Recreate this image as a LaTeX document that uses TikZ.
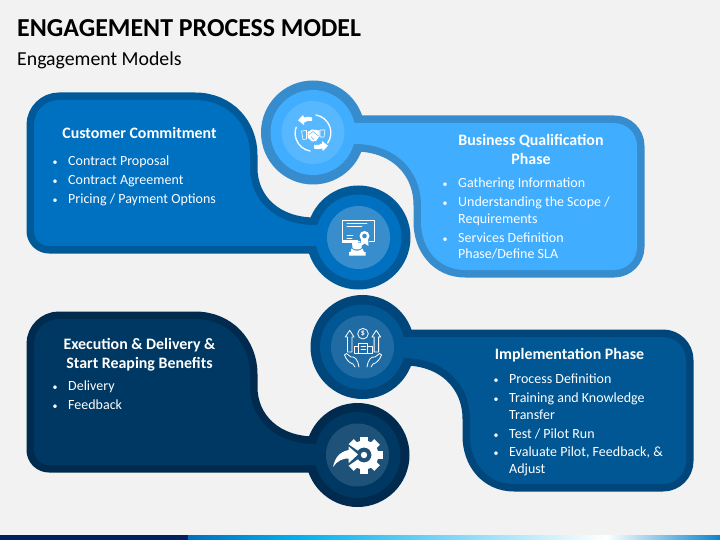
\documentclass[tikz,border=0pt]{standalone}
\usepackage{fontspec}
\setmainfont{Carlito}

\definecolor{pageback}{HTML}{F2F2F2}
\definecolor{lightfill}{HTML}{40ADFF}
\definecolor{lightedge}{HTML}{368CCD}
\definecolor{lightcore}{HTML}{57B8FF}
\definecolor{midfill}{HTML}{0070C0}
\definecolor{midedge}{HTML}{005A9A}
\definecolor{midcore}{HTML}{388ECC}
\definecolor{implfill}{HTML}{005793}
\definecolor{impledge}{HTML}{00467A}
\definecolor{implcore}{HTML}{206BA3}
\definecolor{execfill}{HTML}{003864}
\definecolor{execedge}{HTML}{002B4F}
\definecolor{execcore}{HTML}{1E5278}
\definecolor{barnavy}{HTML}{002060}
\definecolor{barsky}{HTML}{00B0F0}
\definecolor{barend}{HTML}{0A84D0}

\newcommand{\itemdot}{\llap{{\fontsize{10}{10}\selectfont\textbullet}\hspace{10.5pt}}}

\tikzset{
	lightpanel/.style = { fill = lightfill, preaction = { draw = lightedge, line width = 15pt, line join = round } },
	midpanel/.style = { fill = midfill, preaction = { draw = midedge, line width = 15pt, line join = round } },
	implpanel/.style = { fill = implfill, preaction = { draw = impledge, line width = 15pt, line join = round } },
	execpanel/.style = { fill = execfill, preaction = { draw = execedge, line width = 15pt, line join = round } },
	heading/.style = { text = white, anchor = base, inner sep = 0pt, font = \fontsize{15.9}{18}\selectfont\bfseries },
	itemline/.style = { text = white, anchor = base west, inner sep = 0pt, font = \fontsize{14}{16}\selectfont },
	iconline/.style = { draw = white, line width = 1pt, line cap = round, line join = round },
}

\begin{document}
\begin{tikzpicture}[x=1pt, y=-1pt]
	\useasboundingbox ( 0, 0 ) rectangle ( 720, 540 );
	\fill [pageback] ( 0, 0 ) rectangle ( 720, 540 );

	% заголовок
	\node (title) [anchor = base west, inner sep = 0pt, font = \fontsize{25.9}{30}\selectfont\bfseries] at ( 17, 37 ) {ENGAGEMENT PROCESS MODEL};
	\node (subtitle) [anchor = base west, inner sep = 0pt, font = \fontsize{19.8}{22}\selectfont] at ( 17, 66 ) {Engagement Models};

	% полоса внизу
	\fill [barnavy] ( 0, 535 ) rectangle ( 188, 540 );
	\shade [left color = midfill, right color = barsky] ( 188, 535 ) rectangle ( 298, 540 );
	\shade [left color = barsky, right color = white] ( 298, 535 ) rectangle ( 606, 540 );
	\shade [left color = white, right color = barend] ( 606, 535 ) rectangle ( 720, 540 );

	% панель Customer Commitment
	\fill [midedge] ( 358.5, 237.5 ) circle ( 52 );
	\fill [midpanel] ( 358, 246 ) -- ( 49, 246 ) arc [start angle = 90, end angle = 180, radius = 15] -- ( 34, 125 ) arc [start angle = 180, end angle = 270, radius = 25] -- ( 195, 100 ) .. controls ( 228, 100 ) and ( 250, 125 ) .. ( 250, 155 ) -- ( 250, 168 ) .. controls ( 250, 200 ) and ( 275, 225 ) .. ( 315, 225 ) -- ( 358, 225 ) -- cycle;
	\fill [midfill] ( 358.5, 237.5 ) circle ( 43 );
	\fill [midcore] ( 358.5, 237.5 ) circle ( 31.5 );

	% панель Business Qualification
	\fill [lightedge] ( 313, 132.5 ) circle ( 52 );
	\fill [lightpanel] ( 313, 123 ) -- ( 614, 123 ) arc [start angle = -90, end angle = 0, radius = 23] -- ( 637, 247 ) arc [start angle = 0, end angle = 90, radius = 23] -- ( 465, 270 ) .. controls ( 438, 270 ) and ( 421, 248 ) .. ( 421, 222 ) -- ( 421, 205 ) .. controls ( 421, 170 ) and ( 395, 144 ) .. ( 355, 144 ) -- ( 313, 144 ) -- cycle;
	\fill [lightfill] ( 313, 132.5 ) circle ( 42.5 );
	\fill [lightcore] ( 313, 132.5 ) circle ( 31.5 );

	% панель Implementation
	\fill [impledge] ( 362.5, 347 ) circle ( 52 );
	\fill [implpanel] ( 362, 337 ) -- ( 663, 337 ) arc [start angle = -90, end angle = 0, radius = 23] -- ( 686, 461 ) arc [start angle = 0, end angle = 90, radius = 23] -- ( 514, 484 ) .. controls ( 487, 484 ) and ( 470, 462 ) .. ( 470, 436 ) -- ( 470, 419 ) .. controls ( 470, 384 ) and ( 444, 358 ) .. ( 404, 358 ) -- ( 362, 358 ) -- cycle;
	\fill [implfill] ( 362.5, 347 ) circle ( 42.5 );
	\fill [implcore] ( 362.5, 347 ) circle ( 31.5 );

	% панель Execution & Delivery
	\fill [execedge] ( 357.5, 455 ) circle ( 52 );
	\fill [execpanel] ( 358, 465 ) -- ( 49, 465 ) arc [start angle = 90, end angle = 180, radius = 15] -- ( 34, 344 ) arc [start angle = 180, end angle = 270, radius = 25] -- ( 195, 319 ) .. controls ( 228, 319 ) and ( 250, 344 ) .. ( 250, 374 ) -- ( 250, 387 ) .. controls ( 250, 419 ) and ( 275, 444 ) .. ( 315, 444 ) -- ( 358, 444 ) -- cycle;
	\fill [execfill] ( 357.5, 455 ) circle ( 43 );
	\fill [execcore] ( 357.5, 455 ) circle ( 31.5 );

	% текст Customer Commitment
	\node (custhead) [heading] at ( 139.5, 139 ) {Customer Commitment};
	\node (custa) [itemline] at ( 68, 165.5 ) {\itemdot Contract Proposal};
	\node (custb) [itemline] at ( 68, 184.5 ) {\itemdot Contract Agreement};
	\node (custc) [itemline] at ( 68, 203.5 ) {\itemdot Pricing / Payment Options};

	% текст Business Qualification
	\node (bushead) [heading] at ( 531, 146 ) {Business Qualification};
	\node (busheadb) [heading] at ( 531, 165 ) {Phase};
	\node (busa) [itemline] at ( 458, 187.5 ) {\itemdot Gathering Information};
	\node (busb) [itemline] at ( 458, 206.5 ) {\itemdot Understanding the Scope /};
	\node (busc) [itemline] at ( 458, 223.5 ) {Requirements};
	\node (busd) [itemline] at ( 458, 242.5 ) {\itemdot Services Definition};
	\node (buse) [itemline] at ( 458, 258.5 ) {Phase/Define SLA};

	% текст Implementation
	\node (implhead) [heading] at ( 569.5, 359.5 ) {Implementation Phase};
	\node (impla) [itemline] at ( 509, 383.5 ) {\itemdot Process Definition};
	\node (implb) [itemline] at ( 509, 402.5 ) {\itemdot Training and Knowledge};
	\node (implc) [itemline] at ( 509, 419 ) {Transfer};
	\node (impld) [itemline] at ( 509, 438.5 ) {\itemdot Test / Pilot Run};
	\node (imple) [itemline] at ( 509, 456.5 ) {\itemdot Evaluate Pilot, Feedback, \&};
	\node (implf) [itemline] at ( 509, 473.5 ) {Adjust};

	% текст Execution & Delivery
	\node (exechead) [heading] at ( 139.5, 349.5 ) {Execution \& Delivery \&};
	\node (execheadb) [heading] at ( 139.5, 368.5 ) {Start Reaping Benefits};
	\node (execa) [itemline] at ( 68, 390 ) {\itemdot Delivery};
	\node (execb) [itemline] at ( 68, 409 ) {\itemdot Feedback};

	% значок: рукопожатие
	\draw [iconline, line width = 1.3pt] ( 316, 115 ) arc [start angle = -80, end angle = 35, radius = 18];
	\draw [iconline, line width = 1.3pt] ( 310, 151 ) arc [start angle = 100, end angle = 200, radius = 18];
	\fill [white] ( 298, 120.3 ) -- ( 303, 115 ) -- ( 304, 117.5 ) .. controls ( 307, 116.5 ) and ( 310, 116.5 ) .. ( 312, 117.5 ) -- ( 312, 121 ) .. controls ( 309, 120.5 ) and ( 306, 121 ) .. ( 304, 122.5 ) -- ( 304, 125 ) -- cycle;
	\fill [white] ( 328, 145.7 ) -- ( 323, 151 ) -- ( 322, 148.5 ) .. controls ( 319, 149.5 ) and ( 316, 149.5 ) .. ( 314, 148.5 ) -- ( 314, 145 ) .. controls ( 317, 145.5 ) and ( 320, 145 ) .. ( 322, 143.5 ) -- ( 322, 141 ) -- cycle;
	\draw [iconline, line width = 0.6pt] ( 301.5, 131 ) -- ( 306.5, 130.5 ) -- ( 306.5, 139 ) -- ( 303, 139.5 ) -- cycle;
	\draw [iconline, line width = 0.6pt] ( 320, 130 ) -- ( 325, 130 ) -- ( 324, 137 ) -- ( 320, 137 ) -- cycle;
	\fill [white] ( 307.5, 132 ) -- ( 312, 129.5 ) -- ( 319.5, 130.5 ) -- ( 319.5, 136 ) -- ( 316, 141 ) -- ( 312, 141.5 ) -- ( 307.5, 137.5 ) -- cycle;
	\draw [lightcore, line width = 0.5pt] ( 309, 134.5 ) -- ( 313, 131.5 ) -- ( 318.5, 136 );
	\draw [lightcore, line width = 0.5pt] ( 311, 136.5 ) -- ( 314, 140 );

	% значок: сертификат
	\draw [iconline] ( 342.5, 220.5 ) rectangle ( 374, 241 );
	\fill [white] ( 342, 240 ) rectangle ( 358, 242.5 );
	\draw [iconline, line width = 0.7pt] ( 347, 223.5 ) -- ( 367, 223.5 );
	\draw [iconline, line width = 0.7pt] ( 347, 226.5 ) -- ( 362, 226.5 );
	\draw [iconline, line width = 0.7pt] ( 347, 235.5 ) -- ( 353, 235.5 );
	\draw [iconline, line width = 0.7pt] ( 347, 238.5 ) -- ( 352, 238.5 );
	\fill [midcore] ( 364.5, 236 ) circle ( 7 );
	\fill [white] ( 361, 239 ) -- ( 368, 239 ) -- ( 368.5, 246 ) -- ( 364.5, 243.5 ) -- ( 361, 246 ) -- cycle;
	\fill [white] ( 364.5, 236 ) circle ( 5 );
	\fill [midcore] ( 364.5, 236 ) circle ( 2.3 );
	\fill [white] ( 352, 242.5 ) -- ( 362, 242.5 ) -- ( 361.5, 248 ) .. controls ( 360, 250 ) and ( 354, 250 ) .. ( 352.5, 248 ) -- cycle;
	\fill [white] ( 351.5, 248.5 ) .. controls ( 354, 251.5 ) and ( 360, 251.5 ) .. ( 362.5, 248.5 ) -- ( 364, 252 ) -- ( 365.5, 252 ) -- ( 365.5, 255.5 ) -- ( 349, 255.5 ) -- ( 349, 252 ) -- ( 350.5, 252 ) -- cycle;

	% значок: стрелки и здание
	\draw [iconline, line width = 0.8pt] ( 349.7, 330.3 ) -- ( 354, 337 ) -- ( 352, 337 ) -- ( 352, 352 ) -- ( 347.5, 352 ) -- ( 347.5, 337 ) -- ( 345.3, 337 ) -- cycle;
	\draw [iconline, line width = 0.8pt] ( 376.3, 330.3 ) -- ( 380.6, 337 ) -- ( 378.6, 337 ) -- ( 378.6, 352 ) -- ( 374.1, 352 ) -- ( 374.1, 337 ) -- ( 371.9, 337 ) -- cycle;
	\draw [iconline, line width = 0.8pt] ( 363, 333.7 ) circle ( 5.3 );
	\node (coin) [text = white, inner sep = 0pt, font = \fontsize{8}{8}\selectfont\bfseries] at ( 363, 333.7 ) {\$};
	\draw [iconline, line width = 0.8pt] ( 358.7, 353.5 ) -- ( 358.7, 343 ) -- ( 367.7, 343 ) -- ( 367.7, 353.5 );
	\draw [iconline, line width = 0.8pt] ( 358.7, 346.5 ) -- ( 354, 346.5 ) -- ( 354, 353.5 ) -- ( 372.5, 353.5 ) -- ( 372.5, 346.5 ) -- ( 367.7, 346.5 );
	\draw [iconline, line width = 0.8pt] ( 361, 346 ) -- ( 365.5, 346 );
	\draw [iconline, line width = 0.8pt] ( 361, 349 ) -- ( 365.5, 349 );
	\draw [iconline, line width = 0.8pt] ( 344.5, 355 ) .. controls ( 346, 359 ) and ( 349, 363 ) .. ( 353, 364 ) -- ( 355, 367 );
	\draw [iconline, line width = 0.8pt] ( 344.5, 355 ) -- ( 346.5, 353.5 ) -- ( 351, 357 ) .. controls ( 355, 356 ) and ( 358, 360 ) .. ( 359, 367 );
	\draw [iconline, line width = 0.8pt] ( 381.5, 355 ) .. controls ( 380, 359 ) and ( 377, 363 ) .. ( 373, 364 ) -- ( 371, 367 );
	\draw [iconline, line width = 0.8pt] ( 381.5, 355 ) -- ( 379.5, 353.5 ) -- ( 375, 357 ) .. controls ( 371, 356 ) and ( 368, 360 ) .. ( 367, 367 );

	% значок: шестерня
	\fill [white, even odd rule] ( 364, 455 ) circle ( 14.5 ) ( 364, 455 ) circle ( 7.5 );
	\fill [white, rotate around = {0:(364,455)}] ( 376, 451 ) rectangle ( 382.5, 459 );
	\fill [white, rotate around = {45:(364,455)}] ( 376, 451 ) rectangle ( 382.5, 459 );
	\fill [white, rotate around = {90:(364,455)}] ( 376, 451 ) rectangle ( 382.5, 459 );
	\fill [white, rotate around = {135:(364,455)}] ( 376, 451 ) rectangle ( 382.5, 459 );
	\fill [white, rotate around = {-45:(364,455)}] ( 376, 451 ) rectangle ( 382.5, 459 );
	\fill [white, rotate around = {-90:(364,455)}] ( 376, 451 ) rectangle ( 382.5, 459 );
	\fill [white, rotate around = {-135:(364,455)}] ( 376, 451 ) rectangle ( 382.5, 459 );
	\fill [execcore] ( 364, 455 ) -- ( 345, 442 ) -- ( 345, 468 ) -- cycle;
	\fill [white] ( 364, 455 ) circle ( 3.2 );
	\fill [white] ( 333, 467 ) .. controls ( 335, 458 ) and ( 339, 452 ) .. ( 348.7, 450 ) -- ( 348.7, 446.5 ) -- ( 358, 454.5 ) -- ( 348.7, 463 ) -- ( 348.7, 458.5 ) .. controls ( 343, 458 ) and ( 337, 461 ) .. ( 333, 467 ) -- cycle;
\end{tikzpicture}
\end{document}
